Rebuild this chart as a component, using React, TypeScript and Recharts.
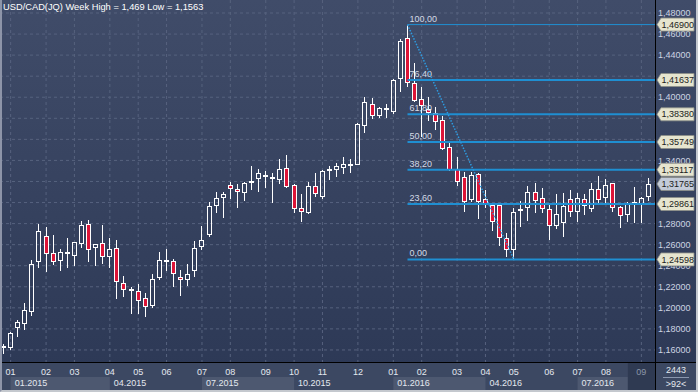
import React from "react";
import { ComposedChart, Bar, XAxis, YAxis, CartesianGrid, ReferenceLine } from "recharts";

// weekly USD/CAD candles, Jan 2015 .. Sep 2016 (92 weeks)
const opens = [
  1.164, 1.1616, 1.1806, 1.1844, 1.1963, 1.2438, 1.268, 1.2518, 1.2448, 1.2527,
  1.2495, 1.2603, 1.2793, 1.2565, 1.2613, 1.248, 1.2565, 1.2233, 1.2176, 1.2157,
  1.2091, 1.2015, 1.2281, 1.244, 1.2442, 1.2296, 1.2262, 1.2347, 1.2579, 1.2692,
  1.297, 1.304, 1.317, 1.3132, 1.3088, 1.3195, 1.3226, 1.3259, 1.324, 1.3214,
  1.3325, 1.3164, 1.2945, 1.2904, 1.316, 1.3055, 1.3297, 1.3309, 1.3331, 1.3355,
  1.3359, 1.3724, 1.3933, 1.3825, 1.3895, 1.3857, 1.4173, 1.456, 1.4132, 1.398,
  1.3886, 1.3848, 1.3784, 1.3525, 1.3316, 1.324, 1.3024, 1.3268, 1.3031, 1.2977,
  1.2977, 1.266, 1.2549, 1.2917, 1.2945, 1.3103, 1.304, 1.2936, 1.2777, 1.2804,
  1.3031, 1.2907, 1.3031, 1.2936, 1.3126, 1.304, 1.3183, 1.2955, 1.2882, 1.2986,
  1.2983, 1.305,
];
const highs = [
  1.166, 1.1774, 1.1885, 1.2049, 1.2452, 1.2793, 1.2765, 1.2692, 1.2559, 1.2666,
  1.2628, 1.2825, 1.2834, 1.2609, 1.2784, 1.2666, 1.2644, 1.2303, 1.2195, 1.2224,
  1.2138, 1.2321, 1.2527, 1.2556, 1.2467, 1.2359, 1.2414, 1.2635, 1.2777, 1.3002,
  1.3097, 1.3097, 1.3192, 1.3173, 1.3192, 1.3347, 1.3316, 1.3302, 1.3278, 1.3411,
  1.3452, 1.3176, 1.3081, 1.3192, 1.3281, 1.3309, 1.3347, 1.3378, 1.3435, 1.3411,
  1.3753, 1.4002, 1.399, 1.3904, 1.3933, 1.4176, 1.455, 1.469, 1.4322, 1.4094,
  1.4005, 1.3904, 1.3822, 1.3578, 1.3435, 1.3293, 1.3293, 1.3283, 1.3119, 1.2993,
  1.2993, 1.2714, 1.2945, 1.3015, 1.316, 1.3183, 1.3135, 1.2977, 1.3081, 1.3094,
  1.3119, 1.3088, 1.3081, 1.3183, 1.3252, 1.3221, 1.3183, 1.2967, 1.3005, 1.3145,
  1.3056, 1.323,
];
const lows = [
  1.1563, 1.1597, 1.1726, 1.1792, 1.1925, 1.2376, 1.2343, 1.2407, 1.235, 1.2381,
  1.24, 1.2566, 1.2438, 1.24, 1.2419, 1.2381, 1.2081, 1.21, 1.1939, 1.1939,
  1.191, 1.1999, 1.2264, 1.2353, 1.2195, 1.2115, 1.221, 1.2296, 1.2549, 1.2676,
  1.2904, 1.2856, 1.3034, 1.2945, 1.3017, 1.3119, 1.3103, 1.3141, 1.2998, 1.3173,
  1.314, 1.2898, 1.2818, 1.2894, 1.305, 1.3031, 1.3214, 1.324, 1.3271, 1.3283,
  1.3354, 1.3663, 1.3793, 1.3806, 1.3806, 1.3838, 1.4053, 1.41, 1.3955, 1.3625,
  1.3774, 1.3689, 1.3499, 1.3302, 1.3157, 1.291, 1.3008, 1.2844, 1.2945, 1.273,
  1.2587, 1.2486, 1.24598, 1.2765, 1.2828, 1.2904, 1.2904, 1.2644, 1.2746, 1.2676,
  1.2866, 1.2818, 1.2882, 1.2913, 1.2993, 1.2993, 1.2913, 1.2755, 1.2818, 1.2809,
  1.2809, 1.3017,
];
const closes = [
  1.1615, 1.1758, 1.1863, 1.1977, 1.2413, 1.273, 1.2514, 1.2438, 1.2527, 1.2508,
  1.2622, 1.2784, 1.2546, 1.2603, 1.248, 1.2559, 1.2243, 1.2167, 1.2157, 1.2062,
  1.2005, 1.2271, 1.2452, 1.245, 1.2321, 1.2264, 1.2319, 1.2565, 1.2646, 1.2964,
  1.304, 1.3078, 1.3126, 1.3097, 1.3183, 1.32, 1.3278, 1.324, 1.3221, 1.3316,
  1.3145, 1.2936, 1.2907, 1.316, 1.3078, 1.3297, 1.3319, 1.3347, 1.3366, 1.3362,
  1.3743, 1.3952, 1.3819, 1.3895, 1.3876, 1.4161, 1.4531, 1.4132, 1.3967, 1.3914,
  1.3853, 1.3765, 1.3506, 1.3309, 1.3195, 1.3002, 1.3262, 1.3002, 1.2986, 1.2812,
  1.266, 1.2549, 1.2907, 1.2936, 1.3103, 1.3012, 1.2936, 1.2777, 1.2888, 1.2966,
  1.2907, 1.304, 1.297, 1.3126, 1.3024, 1.3167, 1.2945, 1.2872, 1.2993, 1.3005,
  1.304, 1.31765,
];

const weeks = opens.map((_, i) => `W${i + 1}`);

// first week of each month / quarter (1-based week numbers)
const monthWeeks = [2, 7, 11, 16, 20, 24, 29, 33, 38, 42, 46, 51, 56, 60, 65, 69, 73, 78, 82, 86, 91];
const monthLabels = ["01", "02", "03", "04", "05", "06", "07", "08", "09", "10", "11", "12",
  "01", "02", "03", "04", "05", "06", "07", "08", "09"];
const quarterWeeks = [2, 16, 29, 42, 56, 69, 82];
const quarterLabels = ["01.2015", "04.2015", "07.2015", "10.2015", "01.2016", "04.2016", "07.2016"];

// grid every 0.02; some labels sit under the price tags and are not shown
const gridTicks = [1.16, 1.18, 1.2, 1.22, 1.24, 1.26, 1.28, 1.3, 1.32, 1.34, 1.36, 1.38, 1.4, 1.42, 1.44, 1.46, 1.48];
const labelTicks = [1.16, 1.18, 1.2, 1.22, 1.24, 1.26, 1.28, 1.34, 1.4, 1.44, 1.46, 1.48];

// fibonacci retracement from the Jan 2016 high to the May 2016 low
const fibLabels = ["100,00", "76,40", "61,80", "50,00", "38,20", "23,60", "0,00"];
const fibPrices = [1.469, 1.41637, 1.3838, 1.35749, 1.33117, 1.29861, 1.24598];
const fibHighWeek = 58;
const fibLowWeek = 73;
const lastPrice = 1.31765;

const W = 698;
const H = 392;
const AXIS_W = 43;
const X_AXIS_H = 30;
const PAD_R = 3;
const PLOT_W = W - AXIS_W;
const PLOT_H = H - X_AXIS_H;
const BAND = (PLOT_W - PAD_R) / weeks.length;
const FONT = '"Liberation Sans", Arial, sans-serif';
const RED = "#dc1437";
const FIB_BLUE = "#1f8fd2";

const rows = weeks.map((k, i) => ({
  k,
  o: opens[i],
  h: highs[i],
  l: lows[i],
  c: closes[i],
  hl: [lows[i], highs[i]],
}));

const fmt = (v: number) => v.toFixed(5).replace(".", ",");

const Candle = (props: any) => {
  const { x, y, width, height, payload } = props;
  if (payload == null || height == null) return null;
  const { o, h, l, c } = payload;
  const ppu = h > l ? height / (h - l) : 0;
  const yOf = (v: number) => y + (h - v) * ppu;
  const n = Math.floor(x + width / 2);
  const cx = n + 0.5;
  const top = Math.round(yOf(Math.max(o, c)));
  let bot = Math.round(yOf(Math.min(o, c)));
  if (bot - top < 2) bot = top + 2;
  const yH = Math.round(y);
  const yL = Math.round(y + height);
  return (
    <g>
      {yH < top && <line x1={cx} x2={cx} y1={yH} y2={top} stroke="#fff" />}
      {yL > bot && <line x1={cx} x2={cx} y1={bot} y2={yL} stroke="#fff" />}
      <rect x={n - 1.5} y={top + 0.5} width={4} height={bot - top - 1}
        fill={c >= o ? "none" : RED} stroke="#fff" />
    </g>
  );
};

const MonthTick = (props: any) => {
  const { x, y, payload } = props;
  const w = Number(String(payload.value).slice(1));
  const mi = monthWeeks.indexOf(w);
  const qi = quarterWeeks.indexOf(w);
  const current = mi === monthWeeks.length - 1;
  const els: React.ReactNode[] = [];
  if (qi >= 0 && qi % 2 === 0) {
    const next = qi + 1 < quarterWeeks.length ? quarterWeeks[qi + 1] : monthWeeks[monthWeeks.length - 1];
    let bw = (next - w) * BAND;
    if (qi + 1 >= quarterWeeks.length) bw -= 13.5;
    els.push(<rect key="qb" x={x} y={y + 15} width={bw} height={15} fill="#4d5870" />);
  }
  if (current) {
    els.push(<rect key="cur" x={x - 13.5} y={y + 1} width={PLOT_W - (x - 13.5)} height={29} fill="#2f3a52" />);
  }
  els.push(
    <text key="m" x={x} y={y + 9.5} dy="0.35em" textAnchor="middle" fontSize={9}
      fontFamily={FONT} fill={current ? "#8c96a8" : "#e4e8ef"}>
      {monthLabels[mi]}
    </text>
  );
  if (qi >= 0) {
    els.push(
      <text key="q" x={x + 4} y={y + 21} dy="0.35em" textAnchor="start" fontSize={9}
        fontFamily={FONT} fill="#e4e8ef">
        {quarterLabels[qi]}
      </text>
    );
  }
  return <g>{els}</g>;
};

const PriceTick = (props: any) => {
  const { x, y, payload } = props;
  const v = payload.value as number;
  const isFib = fibPrices.indexOf(v) >= 0;
  const isLast = v === lastPrice;
  if (isFib || isLast) {
    const pts = `${x + 2},${y} ${x + 6},${y - 6.5} ${x + 39},${y - 6.5} ${x + 39},${y + 6.5} ${x + 6},${y + 6.5}`;
    return (
      <g>
        <polygon points={pts} fill={isLast ? "#c3cbd8" : "#e6e5cf"} stroke="#8d8f88" strokeWidth={0.8} />
        <text x={x + 6.5} y={y} dy="0.35em" fontSize={9} fontFamily={FONT} fill="#1c1c1c">
          {fmt(v)}
        </text>
      </g>
    );
  }
  return (
    <text x={x + 3} y={y} dy="0.35em" fontSize={9} fontFamily={FONT} fill="#cdd5e3">
      {fmt(v)}
    </text>
  );
};

const fibLine = (width: number) => (p: any) => (
  <line x1={p.x1} y1={p.y1} x2={p.x2 + BAND / 2 + PAD_R} y2={p.y2} stroke={FIB_BLUE} strokeWidth={width} />
);

export default function App() {
  const last = weeks[weeks.length - 1];
  return (
    <div style={{ position: "absolute", left: 0, top: 0, width: W, height: H, overflow: "hidden",
      background: "linear-gradient(#404c69, #2c3855)", fontFamily: FONT }}>
      <div style={{ position: "absolute", left: 0, top: PLOT_H, width: W, height: X_AXIS_H, background: "#3c4862" }} />
      <div style={{ position: "absolute", left: 0, top: 0 }}>
        <ComposedChart width={W} height={H} data={rows} margin={{ top: 0, right: 0, bottom: 0, left: 0 }}>
          <CartesianGrid stroke="#56627e" strokeDasharray="3 3" syncWithTicks horizontalValues={gridTicks} />
          <XAxis dataKey="k" type="category" height={X_AXIS_H} ticks={monthWeeks.map((w) => `W${w}`)}
            interval={0} tickLine={false} axisLine={false} tickSize={0} tickMargin={0}
            padding={{ left: 0, right: PAD_R }} tick={(p: any) => <MonthTick {...p} />} />
          <YAxis orientation="right" width={AXIS_W} type="number" domain={[1.14856, 1.49235]} allowDataOverflow
            ticks={[...labelTicks, ...fibPrices, lastPrice]} interval={0} tickLine={false} axisLine={false}
            tickSize={0} tickMargin={0} tick={(p: any) => <PriceTick {...p} />} />
          <Bar dataKey="hl" barSize={5} isAnimationActive={false} shape={(p: any) => <Candle {...p} />} />
          {fibPrices.map((p, i) => (
            <ReferenceLine key={fibLabels[i]}
              segment={[{ x: `W${fibHighWeek}`, y: p }, { x: last, y: p }]}
              stroke={FIB_BLUE} strokeWidth={i === 0 ? 1 : 2}
              shape={fibLine(i === 0 ? 1 : 2)}
              label={(lp: any) => (
                <text x={(lp.viewBox?.x ?? 0) + 2} y={(lp.viewBox?.y ?? 0) - 3} fontSize={9}
                  fontFamily={FONT} fill="#d3dae6">
                  {fibLabels[i]}
                </text>
              )}
            />
          ))}
          <ReferenceLine
            segment={[{ x: `W${fibHighWeek}`, y: fibPrices[0] }, { x: `W${fibLowWeek}`, y: fibPrices[fibPrices.length - 1] }]}
            stroke="#2d9be0" strokeWidth={1.5} strokeDasharray="1.5 1.5" />
        </ComposedChart>
      </div>
      <div style={{ position: "absolute", left: PLOT_W, top: 0, width: 1, height: H, background: "#000" }} />
      <div style={{ position: "absolute", left: 0, top: PLOT_H, width: W, height: 1, background: "#000" }} />
      <div style={{ position: "absolute", left: 3, top: 1, fontSize: 9.3, lineHeight: "12px", color: "#fff", whiteSpace: "nowrap" }}>
        USD/CAD(JQ) Week High = 1,469 Low = 1,1563
      </div>
      <div style={{ position: "absolute", left: PLOT_W + 1, top: PLOT_H + 3, width: AXIS_W - 3, textAlign: "center",
        fontSize: 9, lineHeight: "11px", color: "#e4e8ef" }}>
        <div>2443</div>
        <div style={{ margin: "1px 7px", height: 1, background: "#8a96ad" }} />
        <div>&gt;92&lt;</div>
      </div>
      <div style={{ position: "absolute", left: 0, top: 0, width: W, height: H, boxSizing: "border-box",
        borderLeft: "2px solid #8d94a8", borderRight: "2px solid #c4c8ce", borderBottom: "2px solid #c4c8ce",
        pointerEvents: "none" }} />
    </div>
  );
}
